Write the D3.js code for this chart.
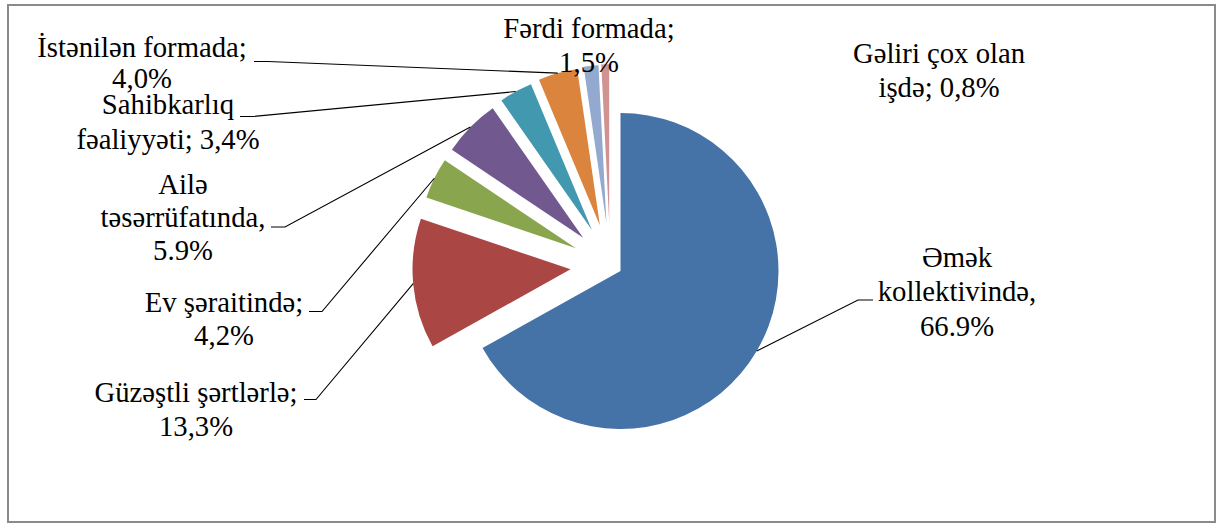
<!DOCTYPE html>
<html>
<head>
<meta charset="utf-8">
<script src="https://cdn.jsdelivr.net/npm/d3@7"></script>
<style>
  html, body { margin: 0; padding: 0; background: #fff; }
  svg { display: block; }
</style>
</head>
<body>
<svg id="chart" width="1221" height="524"></svg>
<script>
// ---- data ----
const categories = [
  "Əmək kollektivində",
  "Güzəştli şərtlərlə",
  "Ev şəraitində",
  "Ailə təsərrüfatında",
  "Sahibkarlıq fəaliyyəti",
  "İstənilən formada",
  "Fərdi formada",
  "Gəliri çox olan işdə"
];
const values = [66.9, 13.3, 4.2, 5.9, 3.4, 4.0, 1.5, 0.8];
const valueLabels = ["66.9%", "13,3%", "4,2%", "5.9%", "3,4%", "4,0%", "1,5%", "0,8%"];
const labelLines = [
  ["Əmək", "kollektivində,", "66.9%"],
  ["Güzəştli şərtlərlə;", "13,3%"],
  ["Ev şəraitində;", "4,2%"],
  ["Ailə", "təsərrüfatında,", "5.9%"],
  ["Sahibkarlıq", "fəaliyyəti; 3,4%"],
  ["İstənilən formada;", "4,0%"],
  ["Fərdi formada;", "1,5%"],
  ["Gəliri çox olan", "işdə; 0,8%"]
];
const exploded = [false, true, true, true, true, true, true, true];
const colors = ["#4572A7", "#AA4643", "#89A54E", "#71588F", "#4198AF", "#DB843D", "#93A9CF", "#D19392"];

// ---- layout (label placement, not data) ----
const labelPos = [
  { cx: 957, y: 266.5, lh: 34.5 },
  { cx: 196, y: 401.5, lh: 34.5 },
  { cx: 224, y: 311.5, lh: 33.5 },
  { cx: 183, y: 193.5, lh: 33.3 },
  { cx: 168, y: 113.5, lh: 35 },
  { cx: 142, y: 56.5, lh: 31.5 },
  { cx: 589, y: 38, lh: 34 },
  { cx: 939, y: 62.5, lh: 34.5 }
];
// leader tick: [x at label, x joining diagonal, y]; null = no leader
const leaderTicks = [
  [873, 858, 300],
  [304, 316, 399.5],
  [309, 322, 311.5],
  [271, 285, 227],
  [240, 253, 116.5],
  [254, 268, 61.5],
  null,
  null
];

const FONT = "'Liberation Serif', 'Times New Roman', serif";

const svg = d3.select("#chart");

// outer border
svg.append("rect")
  .attr("x", 8).attr("y", 5)
  .attr("width", 1207).attr("height", 517)
  .attr("fill", "#fff")
  .attr("stroke", "#8a8a8a")
  .attr("stroke-width", 2);

const cx = 620.5, cy = 271, R = 158, explodeDist = 50;

const pie = d3.pie().sort(null).value(d => d).startAngle(0).endAngle(2 * Math.PI);
const arcs = pie(values);
const arcGen = d3.arc().innerRadius(0).outerRadius(R);

// mid-angle of the exploded group
const exArcs = arcs.filter((a, i) => exploded[i]);
const groupMid = (d3.min(exArcs, a => a.startAngle) + d3.max(exArcs, a => a.endAngle)) / 2;

function offsetFor(a, i) {
  if (!exploded[i]) return [0, 0];
  const mid = (a.startAngle + a.endAngle) / 2;
  const dir = mid + 0.2 * (groupMid - mid);
  return [explodeDist * Math.sin(dir), -explodeDist * Math.cos(dir)];
}

const g = svg.append("g").attr("transform", `translate(${cx},${cy})`);

arcs.forEach((a, i) => {
  const [ox, oy] = offsetFor(a, i);
  g.append("path")
    .attr("d", arcGen(a))
    .attr("transform", `translate(${ox},${oy})`)
    .attr("fill", colors[i]);
});

// leader lines
arcs.forEach((a, i) => {
  const t = leaderTicks[i];
  if (!t) return;
  const [ox, oy] = offsetFor(a, i);
  const mid = (a.startAngle + a.endAngle) / 2;
  const px = cx + ox + R * Math.sin(mid);
  const py = cy + oy - R * Math.cos(mid);
  svg.append("path")
    .attr("d", `M${t[0]},${t[2]}L${t[1]},${t[2]}L${px},${py}`)
    .attr("fill", "none")
    .attr("stroke", "#000")
    .attr("stroke-width", 1.1);
});

// labels
labelLines.forEach((lines, i) => {
  const p = labelPos[i];
  const t = svg.append("text")
    .attr("text-anchor", "middle")
    .attr("font-family", FONT)
    .attr("font-size", 28.7)
    .attr("fill", "#000");
  lines.forEach((ln, j) => {
    t.append("tspan").attr("x", p.cx).attr("y", p.y + j * p.lh).text(ln);
  });
});
</script>
</body>
</html>
